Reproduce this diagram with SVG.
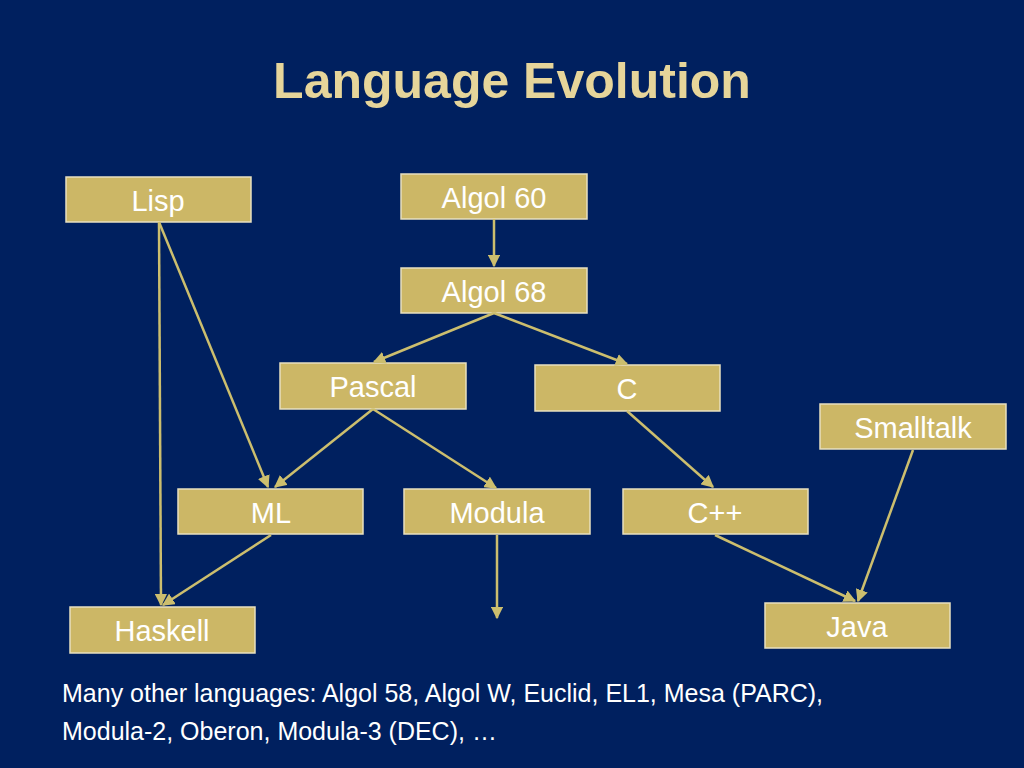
<svg xmlns="http://www.w3.org/2000/svg" width="1024" height="768" viewBox="0 0 1024 768">
<style>
.n{fill:#CCB766;stroke:#E8E0C0;stroke-width:1.5}
.t{font-family:"Liberation Sans",Arial,sans-serif;font-size:29px;fill:#fff;text-anchor:middle}
.c{stroke:#CCBE6E;stroke-width:2.5;fill:none;marker-end:url(#a)}
</style>
<defs><marker id="a" viewBox="0 0 10 10" refX="9" refY="5" markerWidth="5" markerHeight="5" orient="auto"><path d="M0,0L10,5L0,10z" fill="#CCBE6E"/></marker></defs>
<rect width="1024" height="768" fill="#00205F"/>
<text x="512" y="98" font-family="Liberation Sans,Arial,sans-serif" font-size="50" font-weight="bold" fill="#E6D59A" text-anchor="middle">Language Evolution</text>
<g id="lisp"><rect class="n" x="66" y="177" width="185" height="45"/><text class="t" x="158" y="211">Lisp</text></g>
<g id="algol60"><rect class="n" x="401" y="174" width="186" height="45"/><text class="t" x="494" y="208">Algol 60</text></g>
<g id="algol68"><rect class="n" x="401" y="268" width="186" height="45"/><text class="t" x="494" y="302">Algol 68</text></g>
<g id="pascal"><rect class="n" x="280" y="363" width="186" height="46"/><text class="t" x="373" y="397">Pascal</text></g>
<g id="c"><rect class="n" x="535" y="365" width="185" height="46"/><text class="t" x="627" y="399">C</text></g>
<g id="smalltalk"><rect class="n" x="820" y="404" width="186" height="45"/><text class="t" x="913" y="438">Smalltalk</text></g>
<g id="ml"><rect class="n" x="178" y="489" width="185" height="45"/><text class="t" x="271" y="523">ML</text></g>
<g id="modula"><rect class="n" x="404" y="489" width="186" height="45"/><text class="t" x="497" y="523">Modula</text></g>
<g id="cpp"><rect class="n" x="623" y="489" width="185" height="45"/><text class="t" x="715" y="523">C++</text></g>
<g id="haskell"><rect class="n" x="70" y="607" width="185" height="46"/><text class="t" x="162" y="641">Haskell</text></g>
<g id="java"><rect class="n" x="765" y="603" width="185" height="45"/><text class="t" x="857" y="637">Java</text></g>
<g id="connectors">
<line class="c" x1="494" y1="219" x2="494" y2="266"/>
<line class="c" x1="494" y1="313" x2="374" y2="362"/>
<line class="c" x1="494" y1="313" x2="627" y2="364"/>
<line class="c" x1="159" y1="222" x2="161" y2="605"/>
<line class="c" x1="159" y1="222" x2="268" y2="487"/>
<line class="c" x1="373" y1="409" x2="275" y2="487"/>
<line class="c" x1="373" y1="409" x2="496" y2="488"/>
<line class="c" x1="627" y1="411" x2="713" y2="487"/>
<line class="c" x1="913" y1="450" x2="858" y2="601"/>
<line class="c" x1="271" y1="535" x2="163" y2="605"/>
<line class="c" x1="497" y1="535" x2="497" y2="618"/>
<line class="c" x1="715" y1="535" x2="855" y2="601"/>
</g>
<text font-family="Liberation Sans,Arial,sans-serif" font-size="25" fill="#fff"><tspan x="62" y="702">Many other languages: Algol 58, Algol W, Euclid, EL1, Mesa (PARC),</tspan><tspan x="62" y="740">Modula-2, Oberon, Modula-3 (DEC), …</tspan></text>
</svg>
